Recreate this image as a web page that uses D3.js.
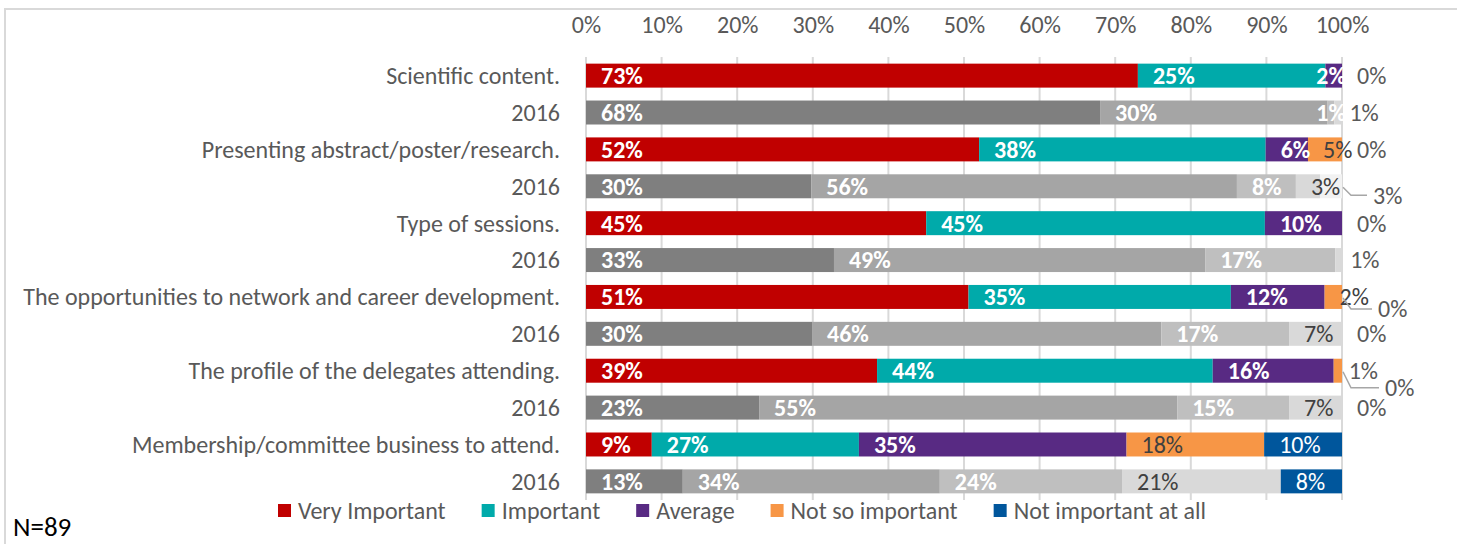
<!DOCTYPE html>
<html>
<head>
<meta charset="utf-8">
<script src="https://cdn.jsdelivr.net/npm/d3@7"></script>
<style>
  body { margin: 0; background: #fff; }
  text { font-family: Calibri, Carlito, sans-serif; }
</style>
</head>
<body>
<svg width="1457" height="544"></svg>
<script>
// rows, top to bottom
const categories = [
    "Scientific content.", "2016",
    "Presenting abstract/poster/research.", "2016",
    "Type of sessions.", "2016",
    "The opportunities to network and career development.", "2016",
    "The profile of the delegates attending.", "2016",
    "Membership/committee business to attend.", "2016"
];
const seriesNames = ["Very Important", "Important", "Average", "Not so important", "Not important at all"];

// share per answer, one array per row (percent)
const values = [
    [73.0, 24.8, 2.2, 0, 0],
    [68.0, 30.1, 0.9, 1.0, 0],
    [52.0, 37.9, 5.6, 4.5, 0],
    [29.8, 56.3, 7.8, 3.2, 2.9],
    [45.0, 44.8, 10.2, 0, 0],
    [32.8, 49.1, 17.2, 0.9, 0],
    [50.6, 34.7, 12.4, 2.3, 0],
    [29.9, 46.2, 16.9, 7.0, 0],
    [38.5, 44.4, 16.0, 1.1, 0],
    [22.9, 55.3, 14.8, 7.0, 0],
    [8.7, 27.4, 35.4, 18.2, 10.3],
    [12.8, 34.0, 24.1, 21.0, 8.1]
];
const tickValues = [0, 10, 20, 30, 40, 50, 60, 70, 80, 90, 100];
const sampleNote = "N=89";

const svg = d3.select("svg");
const width = +svg.attr("width");
const height = +svg.attr("height");

const colors2017 = ["#C00000", "#00AAAA", "#582A83", "#F79646", "#00569C"];
const colors2016 = ["#7F7F7F", "#A5A5A5", "#BFBFBF", "#D9D9D9", "#F2F2F2"];
const textGray = "#595959";

const x = d3.scaleLinear().domain([0, 100]).range([586, 1342]);
const y = d3.scaleBand().domain(d3.range(categories.length)).range([57, 500])
    .paddingInner(0.35).paddingOuter(0.18);

// chart frame
svg.append("path")
    .attr("d", `M5,${height} L5,9 L${width},9`)
    .attr("fill", "none").attr("stroke", "#D9D9D9").attr("stroke-width", 2);

// gridlines
svg.append("g").selectAll("line")
    .data(tickValues)
    .enter().append("line")
    .attr("x1", d => x(d)).attr("x2", d => x(d))
    .attr("y1", 57).attr("y2", 500)
    .attr("stroke", "#D9D9D9").attr("stroke-width", 2);

// top axis labels
const axis = svg.append("g")
    .attr("transform", "translate(0,41)")
    .call(d3.axisTop(x).tickValues(tickValues).tickSize(0).tickPadding(8).tickFormat(d => d + "%"));
axis.select(".domain").remove();
axis.selectAll("text")
    .style("font-family", "Calibri, Carlito, sans-serif")
    .style("font-size", "24px")
    .attr("fill", textGray);

// row labels
svg.append("g").selectAll("text")
    .data(categories)
    .enter().append("text")
    .attr("x", 560)
    .attr("y", (d, i) => y(i) + y.bandwidth() / 2)
    .attr("dy", "0.35em")
    .attr("text-anchor", "end")
    .style("font-size", "24px")
    .attr("fill", textGray)
    .text(d => d);

// stacked segments
const segments = [];
values.forEach((row, r) => {
    let acc = 0;
    row.forEach((v, s) => {
        segments.push({ r, s, v, x0: acc, x1: acc + v });
        acc += v;
    });
});

function segColor(d) {
    if (d.r % 2 === 0) return colors2017[d.s];
    // last 2016 row keeps the blue for "not important at all"
    if (d.s === 4 && d.r === values.length - 1) return colors2017[4];
    return colors2016[d.s];
}

svg.append("g").selectAll("rect")
    .data(segments.filter(d => d.v > 0))
    .enter().append("rect")
    .attr("x", d => x(d.x0))
    .attr("width", d => x(d.x1) - x(d.x0))
    .attr("y", d => y(d.r))
    .attr("height", y.bandwidth())
    .attr("fill", segColor);

// data labels (inside base, like the original)
const hidden = ["1-4", "5-4"];
const callouts = { "3-4": [31, 9], "6-4": [36, 12], "8-4": [43, 17] };
const labelData = segments.filter(d => {
    const key = d.r + "-" + d.s;
    if (hidden.includes(key)) return false;
    if (d.v === 0 && d.s < 4) return false;
    return true;
});

const labels = svg.append("g").selectAll("text")
    .data(labelData)
    .enter().append("text")
    .attr("dy", "0.35em")
    .style("font-size", "24px")
    .style("font-weight", d => d.s <= 2 ? "bold" : "normal")
    .text(d => Math.round(d.v) + "%");

labels.each(function(d) {
    const el = d3.select(this);
    const w = this.getComputedTextLength();
    const cy = y(d.r) + y.bandwidth() / 2;
    let lx = x(d.x0) + 15;
    let ly = cy;
    if (d.s <= 2 && lx + w > x(100) + 12) lx = x(100) - w + 4;
    const c = callouts[d.r + "-" + d.s];
    if (c) {
        lx = x(100) + c[0];
        ly = cy + c[1];
        svg.append("path")
            .attr("d", `M${x(100) + 1},${cy + 1} L${x(100) + 9},${ly} L${lx - 6},${ly}`)
            .attr("fill", "none").attr("stroke", "#A6A6A6").attr("stroke-width", 1.5);
    }
    let fill = "#404040";
    if (lx >= x(100) + 4) fill = textGray;
    else if (d.s <= 2 || segColor(d) === colors2017[4]) fill = "#fff";
    el.attr("x", lx).attr("y", ly).attr("fill", fill);
});

// legend
const legend = svg.append("g").attr("transform", "translate(278,511)");
let lxPos = 0;
seriesNames.forEach((name, i) => {
    const g = legend.append("g").attr("transform", `translate(${lxPos},0)`);
    g.append("rect").attr("x", 0).attr("y", -7).attr("width", 13).attr("height", 13)
        .attr("fill", colors2017[i]);
    const t = g.append("text").attr("x", 20).attr("dy", "0.35em")
        .style("font-size", "24px").attr("fill", textGray).text(name);
    lxPos += 20 + t.node().getComputedTextLength() + 36;
});

svg.append("text")
    .attr("x", 13).attr("y", 536)
    .style("font-size", "27px")
    .attr("fill", "#000")
    .text(sampleNote);
</script>
</body>
</html>
